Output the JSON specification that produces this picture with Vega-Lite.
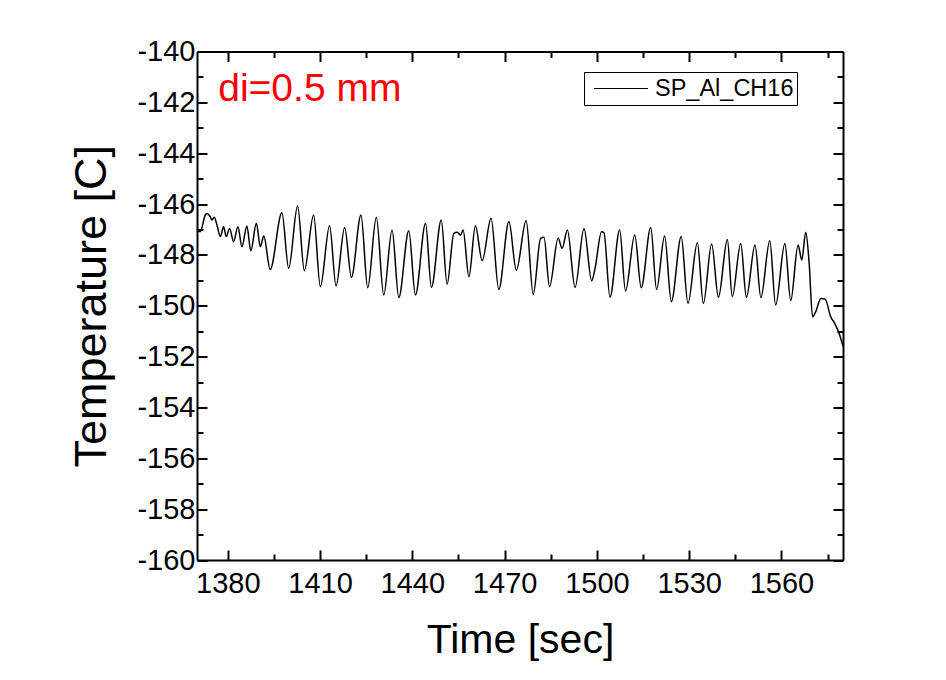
{
  "$schema": "https://vega.github.io/schema/vega-lite/v6.json",
  "width": 646,
  "height": 508.5,
  "autosize": "none",
  "padding": {"left": 197, "top": 51.5, "right": 103, "bottom": 120},
  "background": "white",
  "config": {
    "view": {"stroke": null},
    "axis": {
      "domainColor": "black",
      "domainWidth": 2,
      "tickColor": "black",
      "tickWidth": 2,
      "grid": false,
      "labelFont": "Liberation Sans",
      "labelFontSize": 29,
      "labelColor": "black",
      "titleFont": "Liberation Sans",
      "titleFontWeight": "normal",
      "titleColor": "black"
    }
  },
  "data": {
    "values": [
      {"time": 1370.0, "temp": -147.0},
      {"time": 1371.05, "temp": -147.09},
      {"time": 1372.7, "temp": -146.43},
      {"time": 1373.2, "temp": -146.37},
      {"time": 1374.3, "temp": -146.5},
      {"time": 1374.85, "temp": -146.63},
      {"time": 1375.6, "temp": -146.52},
      {"time": 1376.5, "temp": -146.83},
      {"time": 1377.6, "temp": -147.28},
      {"time": 1378.65, "temp": -146.89},
      {"time": 1379.5, "temp": -147.28},
      {"time": 1380.6, "temp": -146.96},
      {"time": 1381.9, "temp": -147.48},
      {"time": 1383.3, "temp": -146.89},
      {"time": 1384.6, "temp": -147.68},
      {"time": 1386.2, "temp": -146.86},
      {"time": 1387.5, "temp": -147.84},
      {"time": 1389.3, "temp": -146.76},
      {"time": 1390.6, "temp": -147.68},
      {"time": 1391.7, "temp": -147.26},
      {"time": 1393.8, "temp": -148.57},
      {"time": 1397.6, "temp": -146.34},
      {"time": 1399.8, "temp": -148.53},
      {"time": 1402.7, "temp": -146.08},
      {"time": 1404.9, "temp": -148.62},
      {"time": 1407.9, "temp": -146.43},
      {"time": 1410.1, "temp": -149.25},
      {"time": 1413.1, "temp": -146.85},
      {"time": 1415.2, "temp": -149.22},
      {"time": 1418.0, "temp": -146.92},
      {"time": 1420.2, "temp": -148.88},
      {"time": 1423.3, "temp": -146.43},
      {"time": 1425.5, "temp": -149.29},
      {"time": 1428.3, "temp": -146.52},
      {"time": 1430.7, "temp": -149.58},
      {"time": 1433.4, "temp": -147.02},
      {"time": 1435.6, "temp": -149.68},
      {"time": 1438.85, "temp": -147.05},
      {"time": 1441.0, "temp": -149.58},
      {"time": 1444.3, "temp": -146.76},
      {"time": 1446.2, "temp": -149.28},
      {"time": 1449.4, "temp": -146.63},
      {"time": 1451.3, "temp": -149.15},
      {"time": 1453.5, "temp": -147.15},
      {"time": 1454.6, "temp": -147.11},
      {"time": 1455.7, "temp": -147.22},
      {"time": 1456.5, "temp": -147.02},
      {"time": 1458.4, "temp": -148.86},
      {"time": 1460.5, "temp": -146.85},
      {"time": 1462.7, "temp": -148.23},
      {"time": 1465.6, "temp": -146.56},
      {"time": 1468.1, "temp": -149.36},
      {"time": 1471.4, "temp": -146.69},
      {"time": 1473.8, "temp": -148.6},
      {"time": 1477.0, "temp": -146.65},
      {"time": 1479.3, "temp": -149.55},
      {"time": 1481.7, "temp": -147.35},
      {"time": 1482.8, "temp": -147.31},
      {"time": 1484.6, "temp": -149.25},
      {"time": 1487.4, "temp": -147.35},
      {"time": 1488.7, "temp": -147.74},
      {"time": 1490.4, "temp": -147.02},
      {"time": 1492.9, "temp": -149.28},
      {"time": 1495.8, "temp": -146.96},
      {"time": 1498.3, "temp": -149.02},
      {"time": 1499.4, "temp": -148.53},
      {"time": 1501.5, "temp": -147.09},
      {"time": 1502.3, "temp": -147.13},
      {"time": 1504.25, "temp": -149.67},
      {"time": 1507.4, "temp": -147.02},
      {"time": 1509.3, "temp": -149.42},
      {"time": 1512.3, "temp": -147.22},
      {"time": 1514.4, "temp": -149.29},
      {"time": 1517.5, "temp": -146.92},
      {"time": 1519.4, "temp": -149.36},
      {"time": 1522.0, "temp": -147.26},
      {"time": 1524.2, "temp": -149.84},
      {"time": 1527.4, "temp": -147.28},
      {"time": 1529.6, "temp": -149.91},
      {"time": 1532.65, "temp": -147.51},
      {"time": 1534.6, "temp": -149.91},
      {"time": 1537.3, "temp": -147.57},
      {"time": 1539.5, "temp": -149.67},
      {"time": 1542.4, "temp": -147.39},
      {"time": 1544.0, "temp": -149.64},
      {"time": 1546.75, "temp": -147.55},
      {"time": 1548.6, "temp": -149.67},
      {"time": 1551.4, "temp": -147.61},
      {"time": 1553.3, "temp": -149.68},
      {"time": 1556.2, "temp": -147.44},
      {"time": 1558.1, "temp": -149.97},
      {"time": 1561.1, "temp": -147.55},
      {"time": 1563.0, "temp": -149.8},
      {"time": 1565.4, "temp": -147.61},
      {"time": 1566.6, "temp": -148.2},
      {"time": 1567.9, "temp": -147.11},
      {"time": 1569.0, "temp": -148.33},
      {"time": 1570.1, "temp": -150.43},
      {"time": 1571.15, "temp": -150.23},
      {"time": 1572.8, "temp": -149.71},
      {"time": 1574.2, "temp": -149.74},
      {"time": 1576.0, "temp": -150.43},
      {"time": 1577.3, "temp": -150.69},
      {"time": 1578.75, "temp": -151.09},
      {"time": 1580.0, "temp": -151.6}
    ]
  },
  "resolve": {"axis": {"x": "independent", "y": "independent"}},
  "layer": [
    {
      "mark": {"type": "line", "interpolate": "monotone", "strokeWidth": 1.5},
      "encoding": {
        "x": {
          "field": "time", "type": "quantitative",
          "scale": {"domain": [1370, 1580], "nice": false, "zero": false},
          "axis": {
            "orient": "bottom",
            "values": [1380, 1395, 1410, 1425, 1440, 1455, 1470, 1485, 1500, 1515, 1530, 1545, 1560, 1575],
            "labelExpr": "datum.value % 30 == 0 ? toString(datum.value) : ''",
            "tickSize": {"condition": {"test": "datum.value % 30 == 0", "value": -10}, "value": -6},
            "labelPadding": 19,
            "labelFlush": false,
            "labelOverlap": false,
            "title": "Time [sec]",
            "titleFontSize": 41,
            "titlePadding": 18
          }
        },
        "y": {
          "field": "temp", "type": "quantitative",
          "scale": {"domain": [-160, -140], "nice": false, "zero": false},
          "axis": {
            "orient": "left",
            "values": [-160, -159, -158, -157, -156, -155, -154, -153, -152, -151, -150, -149, -148, -147, -146, -145, -144, -143, -142, -141, -140],
            "labelExpr": "datum.value % 2 == 0 ? toString(datum.value) : ''",
            "tickSize": {"condition": {"test": "datum.value % 2 == 0", "value": -10}, "value": -6},
            "labelPadding": 12,
            "labelFlush": false,
            "labelOverlap": false,
            "title": "Temperature [C]",
            "titleFontSize": 45,
            "titlePadding": 22
          }
        },
        "color": {
          "datum": "SP_Al_CH16", "type": "nominal",
          "scale": {"range": ["black"]},
          "legend": {
            "orient": "none",
            "legendX": 387,
            "legendY": 20.5,
            "title": null,
            "strokeColor": "black",
            "fillColor": "white",
            "padding": 3,
            "symbolType": "stroke",
            "symbolSize": 2900,
            "clipHeight": 27,
            "symbolStrokeWidth": 1.2,
            "symbolStrokeColor": "black",
            "symbolOffset": 6,
            "labelOffset": 6,
            "labelLimit": 400,
            "labelFont": "Liberation Sans",
            "labelFontSize": 23.5,
            "labelColor": "black",
            "cornerRadius": 0
          }
        }
      }
    },
    {
      "mark": {"type": "line", "opacity": 0},
      "encoding": {
        "x": {
          "field": "time", "type": "quantitative",
          "axis": {
            "orient": "top",
            "values": [1380, 1395, 1410, 1425, 1440, 1455, 1470, 1485, 1500, 1515, 1530, 1545, 1560, 1575],
            "labels": false,
            "tickSize": {"condition": {"test": "datum.value % 30 == 0", "value": -10}, "value": -6},
            "title": null
          }
        },
        "y": {
          "field": "temp", "type": "quantitative",
          "axis": {
            "orient": "right",
            "values": [-160, -159, -158, -157, -156, -155, -154, -153, -152, -151, -150, -149, -148, -147, -146, -145, -144, -143, -142, -141, -140],
            "labels": false,
            "tickSize": {"condition": {"test": "datum.value % 2 == 0", "value": -10}, "value": -6},
            "title": null
          }
        }
      }
    },
    {
      "data": {"values": [{"time": 1376.9, "temp": -141.95, "label": "di=0.5 mm"}]},
      "mark": {"type": "text", "align": "left", "baseline": "alphabetic", "color": "red", "font": "Liberation Sans", "fontSize": 39},
      "encoding": {
        "x": {"field": "time", "type": "quantitative", "axis": null},
        "y": {"field": "temp", "type": "quantitative", "axis": null},
        "text": {"field": "label"}
      }
    }
  ]
}
